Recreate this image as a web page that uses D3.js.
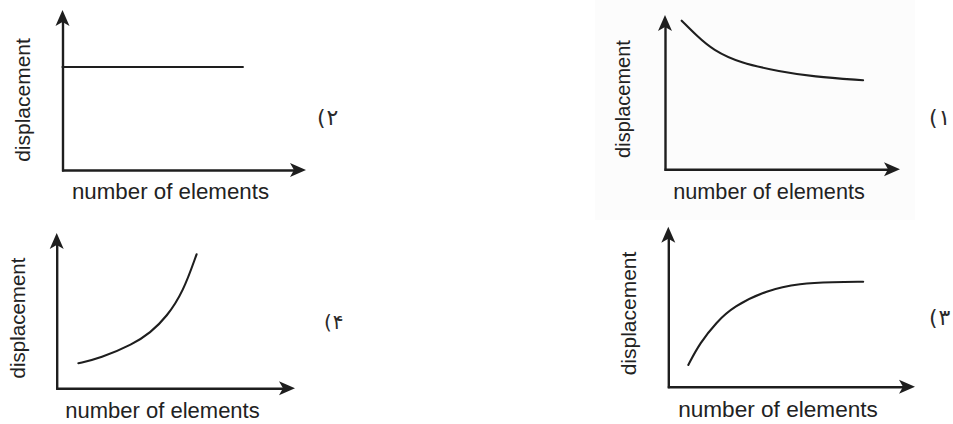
<!DOCTYPE html>
<html>
<head>
<meta charset="utf-8">
<script src="https://cdn.jsdelivr.net/npm/d3@7"></script>
<style>
  body { margin: 0; background: #fff; }
  svg { display: block; }
</style>
</head>
<body>
<div class="chart"></div>
<script>
// axis titles and the panel numbers (Persian digits)
var xTitle = "number of elements";
var yTitle = "displacement";
var panelLabels = ["(۱", "(۲", "(۳", "(۴"];

// every panel uses the same unit-less domain
var domainX = [0, 10];
var domainY = [0, 10];

// panel 1: decreasing, levelling off
var curve1X = [0.71, 1.36, 2.04, 3.19, 4.89, 6.30, 8.43];
var curve1Y = [9.63, 8.64, 7.73, 6.89, 6.34, 6.01, 5.77];
// panel 2: constant
var curve2X = [0, 7.41];
var curve2Y = [6.44, 6.44];
// panel 3: rising, saturating
var curve3X = [0.81, 1.28, 1.96, 2.63, 3.99, 5.34, 6.68, 7.90];
var curve3Y = [1.36, 2.73, 4.04, 5.00, 6.04, 6.46, 6.54, 6.56];
// panel 4: growing faster and faster
var curve4X = [0.91, 1.82, 3.21, 3.92, 4.62, 5.31, 5.87];
var curve4Y = [1.61, 1.93, 2.85, 3.56, 4.61, 6.22, 8.63];

var curvesX = [curve1X, curve2X, curve3X, curve4X];
var curvesY = [curve1Y, curve2Y, curve3Y, curve4Y];

// where each little plot sits on the page
var frames = [
    { x0: 665,   x1: 900, y0: 169.3, y1: 15,    tX: 769,   tY: 199, tSize: 21.7, vX: 630, vY: 99,    vSize: 20,   lX: 929, lY: 125, lSize: 22 },
    { x0: 62.5,  x1: 306, y0: 170,   y1: 10,    tX: 170.5, tY: 199, tSize: 22.3, vX: 30,  vY: 100,   vSize: 21,   lX: 317, lY: 125, lSize: 22 },
    { x0: 668.3, x1: 915, y0: 386.7, y1: 226.7, tX: 778,   tY: 417, tSize: 22.6, vX: 636, vY: 313.5, vSize: 21,   lX: 929, lY: 325, lSize: 22 },
    { x0: 56.7,  x1: 295, y0: 388.3, y1: 233,   tX: 162.5, tY: 418, tSize: 22,   vX: 25,  vY: 318,   vSize: 20.5, lX: 324, lY: 329, lSize: 20 }
];

var ink = "#1e1e1e";
var svgWidth = 953, svgHeight = 424;

var svg = d3.select(".chart")
    .append("svg")
    .attr("width", svgWidth)
    .attr("height", svgHeight);

// faint scan box behind the first panel
svg.append("rect")
    .attr("x", 595).attr("y", 0)
    .attr("width", 320).attr("height", 220)
    .attr("fill", "#fcfcfc");

frames.forEach(function(f, i) {
    var g = svg.append("g");

    var xScale = d3.scaleLinear().domain(domainX).range([f.x0, f.x1]);
    var yScale = d3.scaleLinear().domain(domainY).range([f.y0, f.y1]);

    // bare axes, stopped short so the arrowheads cover the ends
    var xAxis = d3.axisBottom(xScale.copy().range([f.x0 - 1, f.x1 - 6])).ticks(0).tickSizeOuter(0);
    var yAxis = d3.axisLeft(yScale.copy().range([f.y0 + 1, f.y1 + 6])).ticks(0).tickSizeOuter(0);

    g.append("g")
        .attr("transform", "translate(0," + f.y0 + ")")
        .call(xAxis)
        .call(function(a) { a.select(".domain").attr("stroke", ink).attr("stroke-width", 2.4); });

    g.append("g")
        .attr("transform", "translate(" + f.x0 + ",0)")
        .call(yAxis)
        .call(function(a) { a.select(".domain").attr("stroke", ink).attr("stroke-width", 2.4); });

    // arrowheads
    g.append("path")
        .attr("d", "M0,0L-7,16L0,12L7,16Z")
        .attr("transform", "translate(" + f.x0 + "," + f.y1 + ")")
        .attr("fill", ink);
    g.append("path")
        .attr("d", "M0,0L-16,-7L-12,0L-16,7Z")
        .attr("transform", "translate(" + f.x1 + "," + f.y0 + ")")
        .attr("fill", ink);

    // the curve itself
    var pts = curvesX[i].map(function(d, j) { return [d, curvesY[i][j]]; });
    var line = d3.line()
        .x(function(d) { return xScale(d[0]); })
        .y(function(d) { return yScale(d[1]); })
        .curve(d3.curveBasis);

    g.append("path")
        .datum(pts)
        .attr("d", line)
        .attr("fill", "none")
        .attr("stroke", ink)
        .attr("stroke-width", 2.1)
        .attr("stroke-linecap", "round");

    // titles
    g.append("text")
        .attr("x", f.tX).attr("y", f.tY)
        .attr("text-anchor", "middle")
        .attr("font-family", "'Liberation Sans', Arial, sans-serif")
        .attr("font-size", f.tSize)
        .attr("fill", "#222")
        .text(xTitle);

    g.append("text")
        .attr("transform", "translate(" + f.vX + "," + f.vY + ") rotate(-90)")
        .attr("text-anchor", "middle")
        .attr("font-family", "'Liberation Sans', Arial, sans-serif")
        .attr("font-size", f.vSize)
        .attr("fill", "#222")
        .text(yTitle);

    // panel number: paren and digit set one after the other so the
    // bidi rules can't flip them round
    var cx = f.lX;
    Array.from(panelLabels[i]).forEach(function(ch) {
        var t = g.append("text")
            .attr("x", cx).attr("y", f.lY)
            .attr("font-family", "'DejaVu Sans', sans-serif")
            .attr("font-size", f.lSize)
            .attr("fill", "#2a2a2a")
            .text(ch);
        cx += t.node().getComputedTextLength() + 1;
    });
});
</script>
</body>
</html>
